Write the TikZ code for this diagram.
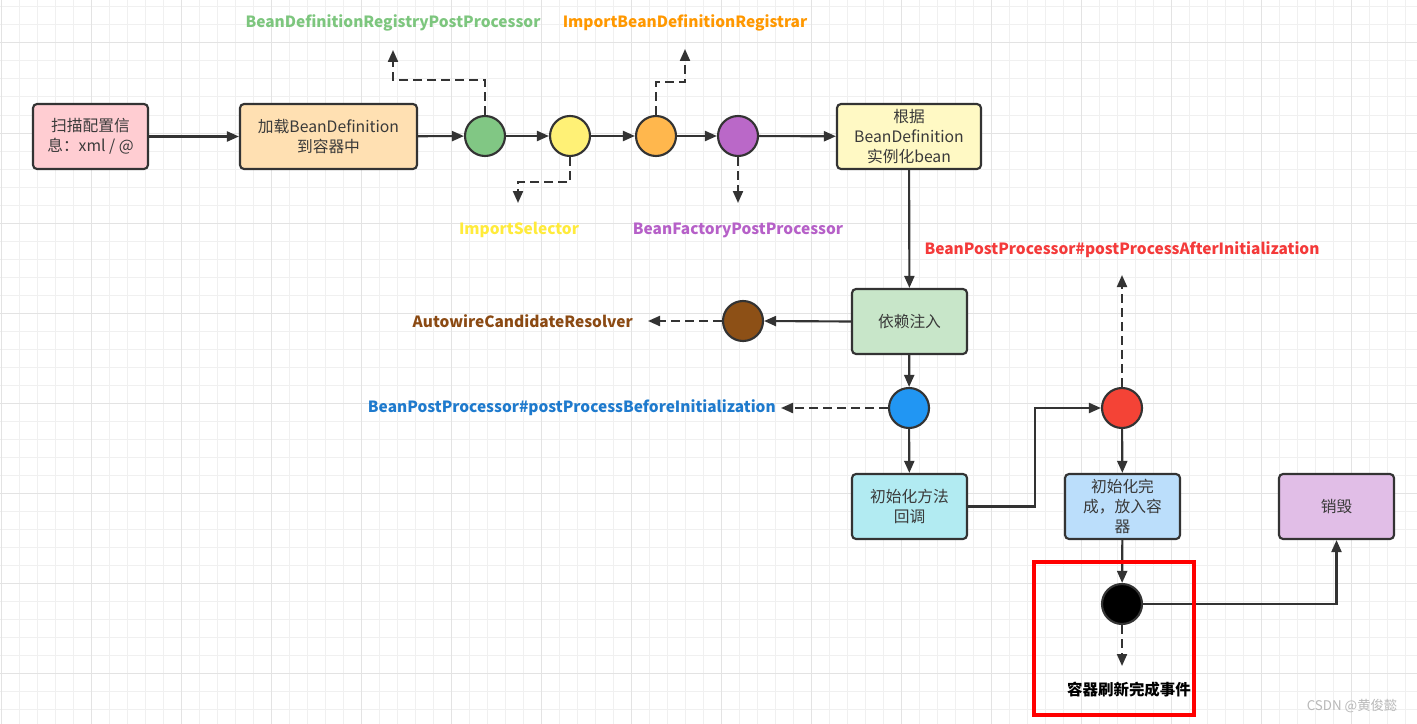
\documentclass[tikz,border=0pt]{standalone}
\usepackage{fontspec}
\setmainfont{Noto Sans CJK SC}
\usetikzlibrary{arrows.meta}
\definecolor{linec}{HTML}{333333}
\definecolor{textc}{HTML}{3A3A3A}
\definecolor{gridl}{HTML}{F0F0F0}
\definecolor{gridd}{HTML}{E3E3E3}
\definecolor{fpink}{HTML}{FFCDD2}
\definecolor{forange}{HTML}{FFE0B2}
\definecolor{fyellow}{HTML}{FFF9C4}
\definecolor{fgreen}{HTML}{C8E6C9}
\definecolor{fcyan}{HTML}{B2EBF2}
\definecolor{fblue}{HTML}{BBDEFB}
\definecolor{fpurple}{HTML}{E1BEE7}
\definecolor{cgreen}{HTML}{81C784}
\definecolor{cyellow}{HTML}{FFF176}
\definecolor{corange}{HTML}{FFB74D}
\definecolor{cpurple}{HTML}{BA68C8}
\definecolor{cbrown}{HTML}{8D5016}
\definecolor{cblue}{HTML}{2196F3}
\definecolor{cred}{HTML}{F44336}
\definecolor{lgreen}{HTML}{7DC67E}
\definecolor{lyellow}{HTML}{FFEB3B}
\definecolor{lorange}{HTML}{FF9800}
\definecolor{lpurple}{HTML}{B660C8}
\definecolor{lbrown}{HTML}{8B4A13}
\definecolor{lblue}{HTML}{1E7ACD}
\definecolor{lred}{HTML}{F43A3A}
\definecolor{wm}{HTML}{B8B8B8}
\tikzset{
  box/.style={draw=linec, line width=1.6pt, rounded corners=3pt, minimum width=86.25pt, minimum height=48.75pt, align=center, text=textc, font=\fontsize{11.8}{15}\selectfont, inner sep=2pt},
  circ/.style={circle, draw=linec, line width=1.6pt, minimum size=30pt, inner sep=0pt},
  sline/.style={draw=linec, line width=1.6pt, -{Triangle[length=9pt,width=7.5pt]}},
  dline/.style={sline, dash pattern=on 6.5pt off 4pt},
  lbl/.style={font=\fontsize{11.6}{13}\selectfont\bfseries, inner sep=0pt}
}
\begin{document}
\begin{tikzpicture}[x=0.75pt,y=-0.75pt]
\useasboundingbox (0,0) rectangle (1417,724);
\fill[white] (0,0) rectangle (1417,724);
\foreach \x in {1,19,...,1417} \draw[gridl, line width=0.75pt] (\x,0) -- (\x,724);
\foreach \y in {7,25,...,724} \draw[gridl, line width=0.75pt] (0,\y) -- (1417,\y);
\foreach \x in {1,91,...,1417} \draw[gridd, line width=0.75pt] (\x,0) -- (\x,724);
\foreach \y in {43,133,...,724} \draw[gridd, line width=0.75pt] (0,\y) -- (1417,\y);

% boxes
\node[box, fill=fpink] (b1) at (90.5,136.5) {扫描配置信\\息：xml / @};
\node[box, fill=forange, minimum width=132.75pt] (b2) at (328.5,136.5) {加载BeanDefinition\\到容器中};
\node[box, fill=fyellow, minimum width=108pt] (b3) at (909,136.5) {根据\\BeanDefinition\\实例化bean};
\node[box, fill=fgreen] (b4) at (909.5,321.5) {依赖注入};
\node[box, fill=fcyan] (b5) at (909.5,506.5) {初始化方法\\回调};
\node[box, fill=fblue] (b6) at (1122.5,506.5) {初始化完\\成，放入容\\器};
\node[box, fill=fpurple] (b7) at (1336.5,506.5) {销毁};

% circles
\node[circ, fill=cgreen] (g) at (485,136) {};
\node[circ, fill=cyellow] (y) at (570,136) {};
\node[circ, fill=corange] (o) at (656,136) {};
\node[circ, fill=cpurple] (p) at (738,136) {};
\node[circ, fill=cbrown] (br) at (743,321) {};
\node[circ, fill=cblue] (bl) at (909,408) {};
\node[circ, fill=cred] (r) at (1122,408) {};
\node[circ, fill=black] (k) at (1122,604) {};

% labels
\node[lbl, text=lgreen] (lg) at (393,23) {BeanDefinitionRegistryPostProcessor};
\node[lbl, text=lorange] (lo) at (685,23) {ImportBeanDefinitionRegistrar};
\node[lbl, text=lyellow] (ly) at (519,230) {ImportSelector};
\node[lbl, text=lpurple] (lp) at (738,230) {BeanFactoryPostProcessor};
\node[lbl, text=lred] (lr) at (1122,250) {BeanPostProcessor\#postProcessAfterInitialization};
\node[lbl, text=lbrown, anchor=east] (lb) at (633,321) {AutowireCandidateResolver};
\node[lbl, text=lblue, anchor=east] (lbl) at (776,408) {BeanPostProcessor\#postProcessBeforeInitialization};
\node[lbl, text=black] (lk) at (1129,690) {容器刷新完成事件};

% free ends of dashed connectors
\coordinate (gtip) at (393,50);
\coordinate (otip) at (685,49);
\coordinate (ytip) at (518,203);
\coordinate (ptip) at (738,203);
\coordinate (brtip) at (648,321);
\coordinate (bltip) at (781,408);
\coordinate (rtip) at (1122,275);
\coordinate (ktip) at (1122,666);

% solid connectors
\draw[sline] (b1) -- (b2);
\draw[sline] (b2) -- (g);
\draw[sline] (g) -- (y);
\draw[sline] (y) -- (o);
\draw[sline] (o) -- (p);
\draw[sline] (p) -- (b3);
\draw[sline] (b3) -- (b4);
\draw[sline] (b4.west) -- (br.east);
\draw[sline] (b4) -- (bl);
\draw[sline] (bl) -- (b5);
\draw[sline] (b5.east) -- ++(67,0) |- (r.west);
\draw[sline] (r) -- (b6);
\draw[sline] (b6) -- (k);
\draw[sline] (k.east) -| (b7.south);

% dashed connectors
\draw[dline] (g.north) -- ++(0,-35) -| (gtip);
\draw[dline] (o.north) -- ++(0,-33) -| (otip);
\draw[dline] (y.south) -- ++(0,25) -| (ytip);
\draw[dline] (p.south) -- (ptip);
\draw[dline] (br.west) -- (brtip);
\draw[dline] (bl.west) -- (bltip);
\draw[dline] (r.north) -- (rtip);
\draw[dline] (k.south) -- (ktip);

% highlight frame
\draw[red, line width=2.5pt] (1034,562) rectangle (1194,715);

% watermark
\node[text=wm, font=\fontsize{10}{11}\selectfont, inner sep=0pt] (wmk) at (1352,706) {CSDN @黄俊懿};
\end{tikzpicture}
\end{document}
